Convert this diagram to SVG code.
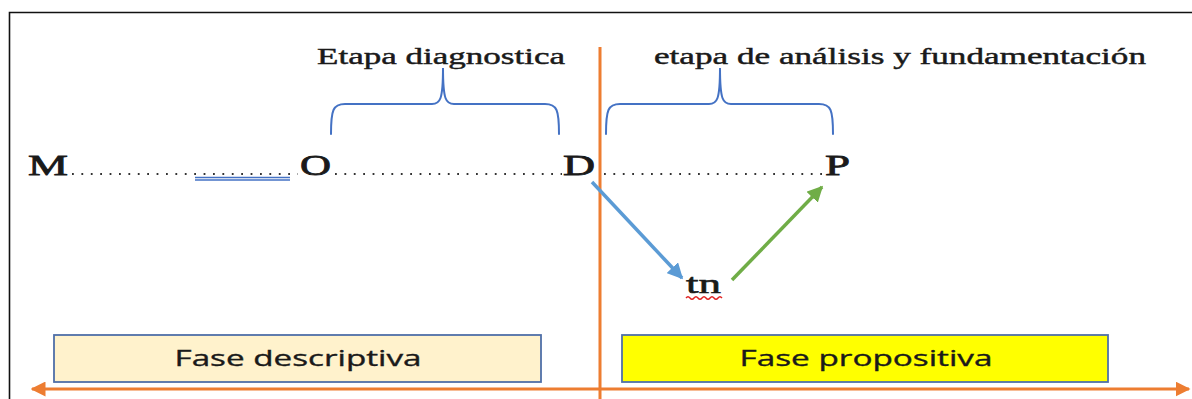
<svg xmlns="http://www.w3.org/2000/svg" width="1192" height="399" viewBox="0 0 1192 399">
  <style>
    .serif { font-family: "Liberation Serif", "DejaVu Serif", serif; fill: #1a1a1a; stroke: #1a1a1a; stroke-width: 0.45; }
    .lbl { font-size: 24px; }
    .let { font-size: 30px; stroke-width: 0.8; }
    .sans { font-family: "Open Sans", "Liberation Sans", sans-serif; font-size: 21px; fill: #1a1a1a; stroke: #1a1a1a; stroke-width: 0.35; }
    .brace { fill: none; stroke: #4472C4; stroke-width: 2; stroke-linecap: round; }
    .dots { stroke: #333; stroke-width: 1.8; stroke-dasharray: 1.8 7.6; }
    .orange { stroke: #ED7D31; stroke-width: 3; fill: none; }
    .box { stroke: #4F6FA8; stroke-width: 1.8; }
  </style>
  <defs>
    <marker id="ahBlue" viewBox="0 0 10 10" refX="9" refY="5" markerWidth="4.5" markerHeight="4.5" orient="auto" markerUnits="strokeWidth">
      <path d="M0,0 L10,5 L0,10 z" fill="#5B9BD5"/>
    </marker>
    <marker id="ahGreen" viewBox="0 0 10 10" refX="9" refY="5" markerWidth="4.5" markerHeight="4.5" orient="auto" markerUnits="strokeWidth">
      <path d="M0,0 L10,5 L0,10 z" fill="#70AD47"/>
    </marker>
    <marker id="ahOrange" viewBox="0 0 10 10" refX="9" refY="5" markerWidth="5" markerHeight="5" orient="auto-start-reverse" markerUnits="strokeWidth">
      <path d="M0,0 L10,5 L0,10 z" fill="#ED7D31"/>
    </marker>
  </defs>

  <rect width="1192" height="399" fill="#ffffff"/>
  <!-- frame -->
  <path d="M1192,12.5 L9.5,12.5 L9.5,399" fill="none" stroke="#111" stroke-width="1.6"/>

  <!-- axes -->
  <g id="axes">
    <line class="orange" x1="600" y1="47" x2="600" y2="399"/>
    <line class="orange" x1="32" y1="389" x2="1189" y2="389" marker-start="url(#ahOrange)" marker-end="url(#ahOrange)"/>
  </g>

  <g id="etapa-diagnostica">
    <text class="serif lbl" x="317" y="64" textLength="248" lengthAdjust="spacingAndGlyphs">Etapa diagnostica</text>
    <path class="brace" d="M331,134 C331,110 333,104 345,104 L432,104 C440,104 443,100 443,68 C443,100 446,104 454,104 L545,104 C557,104 559,110 559,134"/>
  </g>

  <g id="etapa-analisis">
    <text class="serif lbl" x="654" y="64" textLength="492" lengthAdjust="spacingAndGlyphs">etapa de análisis y fundamentación</text>
    <path class="brace" d="M606,134 C606,110 608,104 620,104 L709,104 C717,104 720,100 720,68 C720,100 723,104 731,104 L819,104 C831,104 833,110 833,134"/>
  </g>

  <g id="line-dots">
    <line class="dots" x1="72" y1="174" x2="298" y2="174"/>
    <line class="dots" x1="335" y1="174" x2="562" y2="174"/>
    <line class="dots" x1="604" y1="174" x2="824" y2="174"/>
    <line x1="195" y1="177.5" x2="290" y2="177.5" stroke="#4472C4" stroke-width="1.3"/>
    <line x1="195" y1="180" x2="290" y2="180" stroke="#4472C4" stroke-width="1.3"/>
  </g>

  <g id="node-M"><text class="serif let" x="28" y="175" textLength="40" lengthAdjust="spacingAndGlyphs">M</text></g>
  <g id="node-O"><text class="serif let" x="300" y="175" textLength="31" lengthAdjust="spacingAndGlyphs">O</text></g>
  <g id="node-D"><text class="serif let" x="563" y="175" textLength="32" lengthAdjust="spacingAndGlyphs">D</text></g>
  <g id="node-P"><text class="serif let" x="825" y="175" textLength="25" lengthAdjust="spacingAndGlyphs">P</text></g>
  <g id="node-tn">
    <text class="serif" style="font-size:27px;stroke-width:0.6" x="686" y="293" textLength="35" lengthAdjust="spacingAndGlyphs">tn</text>
    <path d="M686,298 q2,-2.5 4,0 t4,0 t4,0 t4,0 t4,0 t4,0 t4,0 t4,0 t4,0" fill="none" stroke="#E02020" stroke-width="1.4"/>
  </g>

  <g id="connectors">
    <line x1="592" y1="182" x2="682" y2="278" stroke="#5B9BD5" stroke-width="3.5" marker-end="url(#ahBlue)"/>
    <line x1="732" y1="280" x2="822" y2="187" stroke="#70AD47" stroke-width="3.5" marker-end="url(#ahGreen)"/>
  </g>

  <g id="fase-descriptiva">
    <rect class="box" x="54" y="335" width="487" height="47" fill="#FFF2CC"/>
    <text class="sans" x="298" y="366" text-anchor="middle" textLength="247" lengthAdjust="spacingAndGlyphs">Fase descriptiva</text>
  </g>
  <g id="fase-propositiva">
    <rect class="box" x="622" y="335" width="486" height="47" fill="#FFFF00"/>
    <text class="sans" x="866" y="366" text-anchor="middle" textLength="253" lengthAdjust="spacingAndGlyphs">Fase propositiva</text>
  </g>
</svg>
